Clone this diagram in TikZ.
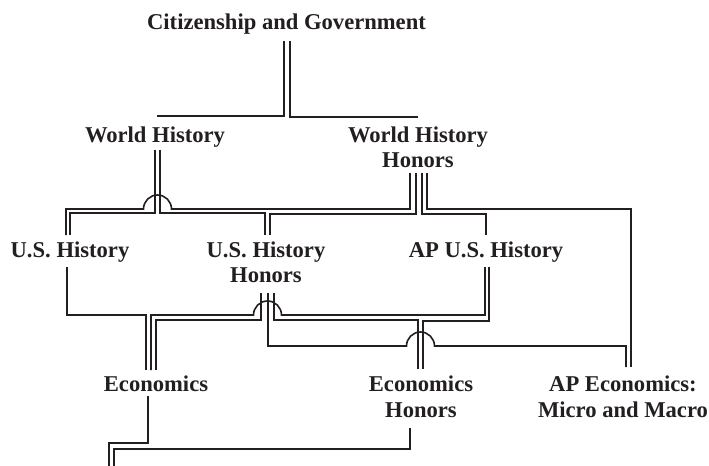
\documentclass[tikz,border=0pt]{standalone}
\usepackage{fontspec}
\setmainfont{Liberation Serif}
\definecolor{ink}{HTML}{231F20}
\begin{document}
\begin{tikzpicture}[x=0.5pt,y=-0.5pt,
  lbl/.style={font=\bfseries\fontsize{11.3}{13}\selectfont, inner sep=0pt, anchor=base, text=ink},
  conn/.style={draw=ink, line width=0.8pt, line join=miter}]
\useasboundingbox (0,0) rectangle (709,466);
% labels
\node[lbl] (cg)   at (286.5,30) {Citizenship and Government};
\node[lbl] (wh)   at (155,142) {World History};
\node[lbl] (whh)  at (418,142) {\begin{tabular}[t]{@{}c@{}}World History\\Honors\end{tabular}};
\node[lbl] (ush)  at (70,257) {U.S. History};
\node[lbl] (ushh) at (266,257) {\begin{tabular}[t]{@{}c@{}}U.S. History\\Honors\end{tabular}};
\node[lbl] (apus) at (486,257) {AP U.S. History};
\node[lbl] (eco)  at (156,392) {Economics};
\node[lbl] (ecoh) at (421,392) {\begin{tabular}[t]{@{}c@{}}Economics\\Honors\end{tabular}};
\node[lbl] (apec) at (623,392) {\begin{tabular}[t]{@{}c@{}}AP Economics:\\Micro and Macro\end{tabular}};
% connector end points
\coordinate (cgL) at (284,41);   \coordinate (cgR) at (290,41);
\coordinate (whIn) at (157,116); \coordinate (whhIn) at (418,117);
\coordinate (whA) at (155,150);  \coordinate (whB) at (160,150);
\coordinate (whhA) at (410,173); \coordinate (whhB) at (416,173);
\coordinate (whhC) at (422,173); \coordinate (whhD) at (427,173);
\coordinate (ushA) at (66,235);  \coordinate (ushB) at (70,235);
\coordinate (ushhA) at (265,235); \coordinate (ushhB) at (270,235);
\coordinate (apusIn) at (486,235);
\coordinate (apecA) at (626,367); \coordinate (apecB) at (631,367);
\coordinate (ushOut) at (67,267);
\coordinate (apusA) at (485,267); \coordinate (apusB) at (489,267);
\coordinate (ushhC) at (261,293); \coordinate (ushhD) at (268,293); \coordinate (ushhE) at (274,293);
\coordinate (ecoA) at (146,370); \coordinate (ecoB) at (151,370); \coordinate (ecoC) at (156,370);
\coordinate (ecohA) at (418,369); \coordinate (ecohB) at (423,369);
\coordinate (ecoOut) at (148,396); \coordinate (ecohOut) at (410,428);
\coordinate (endA) at (109,466); \coordinate (endB) at (114,466);
% Citizenship -> World History / Honors
\draw[conn] (cgL) |- (whIn);
\draw[conn] (cgR) |- (whhIn);
% World History ->
\draw[conn] (whA) |- (ushB |- 0,213) -- (ushB);
\draw[conn] (whB) |- (ushhA |- 0,213) -- (ushhA);
% World History Honors ->
\draw[conn] (whhA) -- (410,209) -- (171.5,209) arc[start angle=0,end angle=-180,radius=14] -- (66,209) -- (ushA);
\draw[conn] (whhB) |- (ushhB |- 0,214) -- (ushhB);
\draw[conn] (whhC) |- (apusIn |- 0,214) -- (apusIn);
\draw[conn] (whhD) |- (apecB |- 0,209) -- (apecB);
% U.S. History -> Economics
\draw[conn] (ushOut) |- (ecoA |- 0,315) -- (ecoA);
% AP U.S. History -> Economics (hop over U.S. History Honors)
\draw[conn] (apusA) -- (485,315) -- (281.5,315) arc[start angle=0,end angle=-180,radius=14] -- (151,315) -- (ecoB);
% U.S. History Honors ->
\draw[conn] (ushhC) |- (ecoC |- 0,320) -- (ecoC);
\draw[conn] (ushhE) |- (ecohA |- 0,320) -- (ecohA);
\draw[conn] (ushhD) -- (268,346) -- (406.5,346) arc[start angle=180,end angle=360,radius=14] -- (626,346) -- (apecA);
% AP U.S. History -> Economics Honors
\draw[conn] (apusB) |- (ecohB |- 0,321) -- (ecohB);
% Economics / Economics Honors -> below
\draw[conn] (ecoOut) |- (endA |- 0,443) -- (endA);
\draw[conn] (ecohOut) |- (endB |- 0,449) -- (endB);
\end{tikzpicture}
\end{document}
